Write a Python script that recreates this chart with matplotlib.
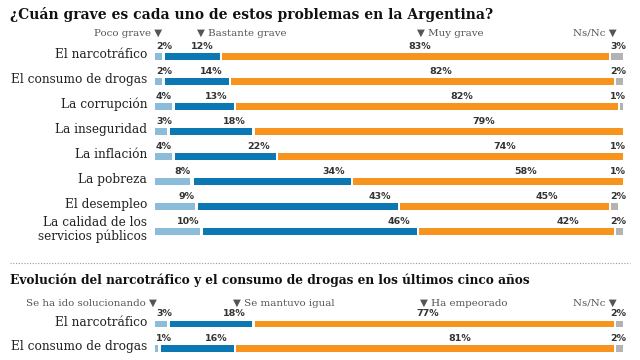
import matplotlib
matplotlib.use('Agg')
import matplotlib.pyplot as plt

# ---- data ----
title1 = "¿Cuán grave es cada uno de estos problemas en la Argentina?"
categories1 = ["El narcotráfico", "El consumo de drogas", "La corrupción",
               "La inseguridad", "La inflación", "La pobreza", "El desempleo",
               "La calidad de los\nservicios públicos"]
legend1 = ["Poco grave", "Bastante grave", "Muy grave", "Ns/Nc"]
poco_grave = [2, 2, 4, 3, 4, 8, 9, 10]
bastante_grave = [12, 14, 13, 18, 22, 34, 43, 46]
muy_grave = [83, 82, 82, 79, 74, 58, 45, 42]
nsnc1 = [3, 2, 1, 0, 1, 1, 2, 2]

title2 = "Evolución del narcotráfico y el consumo de drogas en los últimos cinco años"
categories2 = ["El narcotráfico", "El consumo de drogas"]
legend2 = ["Se ha ido solucionando", "Se mantuvo igual", "Ha empeorado", "Ns/Nc"]
solucionando = [3, 1]
mantuvo_igual = [18, 16]
empeorado = [77, 81]
nsnc2 = [2, 2]

# ---- style ----
COLORS = ["#8bbcd9", "#0b78b3", "#f7941d", "#b3b3b3"]
SERIF = "DejaVu Serif"
LBL_COLOR = "#333333"
W, H = 640, 360

fig = plt.figure(figsize=(6.4, 3.6), dpi=100)
fig.patch.set_facecolor("white")


def fx(px):
    return px / W


def fy(py):
    return 1 - py / H


def draw_panel(ax, cats, series, orange_x0, orange_step):
    gap = 0.45
    bh = 0.28
    for i, cat in enumerate(cats):
        left = 0
        for k, vals in enumerate(series):
            v = vals[i]
            if v > 0:
                ax.barh(i, v - gap, left=left + (gap / 2 if k > 0 else 0),
                        height=bh, color=COLORS[k], linewidth=0)
                # label placement
                if k == 0:
                    if v < 6:
                        x, ha = left + 0.2, "left"
                    else:
                        x, ha = left + v - 0.5, "right"
                elif k == 1:
                    x, ha = left + v - 4, "center"
                elif k == 2:
                    x, ha = orange_x0 + orange_step * i, "center"
                else:
                    x, ha = 100.5, "right"
                ax.annotate(f"{v}%", (x, i), xytext=(0, 7.3),
                            textcoords="offset points", ha=ha, va="center",
                            fontsize=6.8, fontweight="bold", color=LBL_COLOR,
                            family="DejaVu Sans", annotation_clip=False)
            left += v
        ax.text(-1.7, i - 0.08, cat, ha="right", va="center", fontsize=8.7,
                family=SERIF, color="#222222", multialignment="right",
                linespacing=1.0 if "\n" in cat else 1.2,
                transform=ax.transData, clip_on=False)
    ax.set_xlim(0, 100)
    ax.axis("off")


# ---- top panel ----
ax1 = fig.add_axes([fx(155), fy(244), 469 / W, 200 / H])
ax1.set_ylim(7.5, -0.5)
draw_panel(ax1, categories1, [poco_grave, bastante_grave, muy_grave, nsnc1],
           56.5, 4.5)

fig.text(fx(10), fy(15), title1, ha="left", va="center", fontsize=10.0,
         fontweight="bold", family=SERIF, color="#111111")
hdr_kw = dict(va="center", fontsize=7.4, family=SERIF, color="#555555")
fig.text(fx(162), fy(33), legend1[0] + " ▼", ha="right", **hdr_kw)
fig.text(fx(197), fy(33), "▼ " + legend1[1], ha="left", **hdr_kw)
fig.text(fx(417), fy(33), "▼ " + legend1[2], ha="left", **hdr_kw)
fig.text(fx(617), fy(33), legend1[3] + " ▼", ha="right", **hdr_kw)

# separator
fig.add_artist(plt.Line2D([fx(10), fx(630)], [fy(262.5), fy(262.5)],
                          color="#9a9a9a", linewidth=0.8, linestyle=(0, (1, 1.5))))

# ---- bottom panel ----
ax2 = fig.add_axes([fx(155), fy(360), 469 / W, 60 / H])
ax2.set_ylim((360 - 324) / 24.5, (300 - 324) / 24.5)
draw_panel(ax2, categories2, [solucionando, mantuvo_igual, empeorado, nsnc2],
           58.2, 6.7)

fig.text(fx(10), fy(280), title2, ha="left", va="center", fontsize=8.7,
         fontweight="bold", family=SERIF, color="#111111")
fig.text(fx(157), fy(303), legend2[0] + " ▼", ha="right", **hdr_kw)
fig.text(fx(233), fy(303), "▼ " + legend2[1], ha="left", **hdr_kw)
fig.text(fx(420), fy(303), "▼ " + legend2[2], ha="left", **hdr_kw)
fig.text(fx(617), fy(303), legend2[3] + " ▼", ha="right", **hdr_kw)

fig.savefig("out.png", dpi=100, facecolor="white")
